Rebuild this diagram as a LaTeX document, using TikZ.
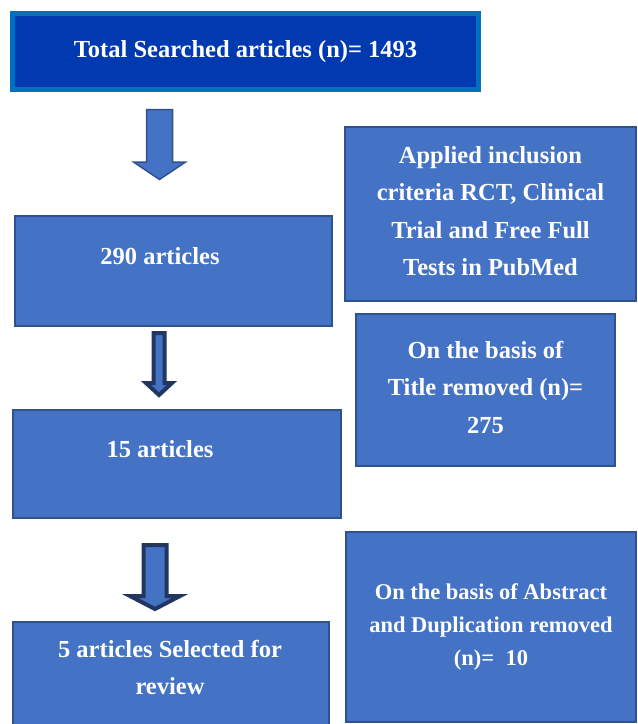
\documentclass[tikz,border=0pt]{standalone}
\usepackage{fontspec}
\setmainfont{Liberation Serif}
\usepackage{tikz}
\usetikzlibrary{calc}
\definecolor{boxblue}{HTML}{4472C4}
\definecolor{boxedge}{HTML}{2F528F}
\definecolor{topblue}{HTML}{0039B0}
\definecolor{topedge}{HTML}{0070C0}
\definecolor{navy}{HTML}{22375F}
\newcommand{\DownArrow}[7]{%
    \draw[#1] (#2-#4,#3) -- (#2+#4,#3) -- (#2+#4,#6) -- (#2+#5,#6) -- (#2,#7)
        -- (#2-#5,#6) -- (#2-#4,#6) -- cycle;
}
\tikzset{
    box/.style={draw=boxedge, fill=boxblue, line width=2pt, inner sep=0pt},
    topbox/.style={draw=topedge, fill=topblue, line width=5pt, inner sep=0pt},
    txt/.style={text=white, align=center, inner sep=0pt,
        font=\fontsize{24.5}{37.5}\selectfont\bfseries},
    smalltxt/.append style={txt, font=\fontsize{22.5}{33}\selectfont\bfseries},
    thinarrow/.style={draw=boxedge, fill=boxblue, line width=1.5pt, line join=miter},
    heavyarrow/.style={draw=navy, fill=boxblue, line width=4pt, line join=miter},
}
\begin{document}
\begin{tikzpicture}[x=1pt, y=-1pt]
    \useasboundingbox (0,0) rectangle (638,724);

    \node[topbox, txt, minimum width=466pt, minimum height=76pt] (total) at (245.5,51.5)
        {Total Searched articles (n)= 1493};

    % left column
    \node[box, minimum width=317pt, minimum height=110pt] (b290) at (173.5,271) {};
    \node[txt, anchor=base] (t290) at (160,264) {290 articles};

    \node[box, minimum width=328pt, minimum height=108pt] (b15) at (177,464) {};
    \node[txt, anchor=base] (t15) at (160,457) {15 articles};

    \node[box, minimum width=316pt, minimum height=156pt] (b5) at (171,700) {};
    \node[txt, anchor=north] (t5) at (170,640) {5 articles Selected for\\review};

    % right column
    \node[box, minimum width=291pt, minimum height=174pt] (incl) at (490.5,214) {};
    \node[txt] (tincl) at ([yshift=3pt]incl.center)
        {Applied inclusion\\criteria RCT, Clinical\\Trial and Free Full\\Tests in PubMed};
    \node[box, minimum width=259pt, minimum height=152pt] (title) at (485.5,390) {};
    \node[txt] (ttitle) at ([yshift=3pt]title.center)
        {On the basis of\\Title removed (n)=\\275};
    \node[box, smalltxt, minimum width=290pt, minimum height=190pt] (abst) at (491,627)
        {On the basis of Abstract\\and Duplication removed\\(n)=~~10};

    % block arrows
    \DownArrow{thinarrow}{159.5}{109.5}{13}{26}{162}{179.5}
    \DownArrow{heavyarrow}{159}{333}{5.5}{13}{383}{395}
    \DownArrow{heavyarrow}{155}{545}{11.5}{25}{596}{609}
\end{tikzpicture}
\end{document}
